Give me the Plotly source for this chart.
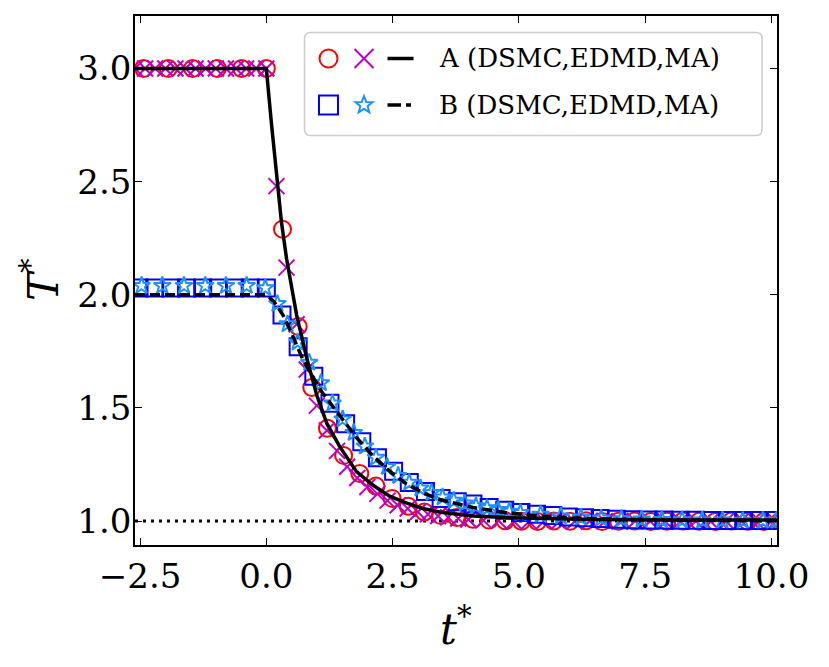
import math
import plotly.graph_objects as go

# ---------------- data ----------------
A_dsmc_t = [-2.43, -1.94, -1.46, -0.97, -0.49, 0.00, 0.32, 0.63, 0.90, 1.21,
            1.53, 1.85, 2.17, 2.49, 2.81, 3.13, 3.45, 3.77, 4.09, 4.41,
            4.73, 5.05, 5.37, 5.69, 6.01, 6.33, 6.65, 6.97, 7.29, 7.61,
            7.93, 8.25, 8.57, 8.89, 9.21, 9.53, 9.85, 10.17]
A_dsmc_T = [3.00, 3.00, 3.00, 3.00, 3.00, 3.00, 2.29, 1.86, 1.59, 1.41,
            1.29, 1.21, 1.155, 1.10, 1.065, 1.04, 1.025, 1.015, 1.008, 1.004,
            1.001, 0.999, 0.998, 1.000, 0.999, 1.001, 0.998, 0.999, 1.000, 0.998,
            0.999, 1.000, 0.999, 0.998, 1.000, 0.999, 0.998, 0.999]

A_edmd_t = [-2.6, -2.4, -2.2, -2.0, -1.8, -1.6, -1.4, -1.2, -1.0, -0.8, -0.6, -0.4, -0.2, 0.0,
            0.2, 0.4, 0.6, 0.8, 1.0, 1.2, 1.4, 1.6, 1.8, 2.0,
            2.2, 2.4, 2.6, 2.8, 3.0, 3.2, 3.4, 3.6, 3.8, 4.0,
            4.3, 4.6, 4.9, 5.2, 5.5, 5.8, 6.1, 6.4, 6.7, 7.0,
            7.3, 7.6, 7.9, 8.2, 8.5, 8.8, 9.1, 9.4, 9.7, 10.0]
A_edmd_T = [3.00, 3.00, 3.00, 3.00, 3.00, 3.00, 3.00, 3.00, 3.00, 3.00, 3.00, 3.00, 3.00, 3.00,
            2.48, 2.12, 1.87, 1.67, 1.51, 1.40, 1.31, 1.24, 1.19, 1.15,
            1.12, 1.09, 1.07, 1.055, 1.04, 1.03, 1.022, 1.016, 1.011, 1.007,
            1.003, 1.001, 0.999, 0.998, 1.000, 0.999, 0.998, 1.000, 0.999, 0.998,
            1.000, 0.999, 0.998, 0.999, 1.000, 0.998, 0.999, 1.000, 0.998, 0.999]

A_ma_t = [-2.6, 0.0, 0.1, 0.2, 0.3, 0.4, 0.5, 0.6, 0.7, 0.8, 1.0, 1.2, 1.45, 1.78,
          2.1, 2.44, 2.77, 3.1, 3.43, 4.09, 4.75, 5.4, 6.5, 8.0, 10.2]
A_ma_T = [3.0, 3.0, 2.76, 2.53, 2.32, 2.16, 2.03, 1.91, 1.815, 1.72, 1.555, 1.43, 1.33, 1.22,
          1.16, 1.11, 1.08, 1.055, 1.04, 1.022, 1.015, 1.011, 1.007, 1.005, 1.004]

B_dsmc_t = [-2.52, -2.21, -1.89, -1.58, -1.26, -0.95, -0.63, -0.32, 0.00,
            0.31, 0.63, 0.94, 1.26, 1.57, 1.89, 2.20, 2.52, 2.83, 3.15,
            3.46, 3.78, 4.09, 4.41, 4.72, 5.04, 5.35, 5.67, 5.98, 6.30,
            6.61, 6.93, 7.24, 7.56, 7.87, 8.19, 8.50, 8.82, 9.13, 9.45,
            9.76, 10.08]
B_dsmc_T = [2.03, 2.03, 2.03, 2.03, 2.03, 2.03, 2.03, 2.03, 2.03,
            1.91, 1.77, 1.64, 1.52, 1.43, 1.35, 1.28, 1.22, 1.17, 1.13,
            1.10, 1.085, 1.075, 1.06, 1.048, 1.038, 1.03, 1.024, 1.018, 1.014,
            1.011, 1.008, 1.006, 1.005, 1.004, 1.003, 1.003, 1.002, 1.002, 1.002,
            1.002, 1.002]

B_edmd_t = [-2.47, -2.06, -1.63, -1.21, -0.80, -0.39, -0.02,
            0.22, 0.42, 0.62, 0.85, 1.08, 1.31, 1.51, 1.73, 1.95, 2.17,
            2.39, 2.61, 2.83, 3.05, 3.27, 3.49, 3.71, 3.93, 4.15, 4.37,
            4.59, 4.81, 5.03, 5.43, 5.83, 6.23, 6.63, 7.03, 7.43, 7.83,
            8.23, 8.63, 9.03, 9.43, 9.83, 10.10]
B_edmd_T = [2.04, 2.04, 2.04, 2.04, 2.04, 2.04, 2.03,
            1.96, 1.87, 1.79, 1.70, 1.61, 1.52, 1.45, 1.39, 1.33, 1.28,
            1.24, 1.20, 1.17, 1.145, 1.125, 1.105, 1.09, 1.078, 1.066, 1.057,
            1.049, 1.042, 1.036, 1.028, 1.021, 1.016, 1.012, 1.009, 1.007, 1.005,
            1.004, 1.003, 1.003, 1.002, 1.002, 1.002]

B_ma_t = [-2.6, 0.0, 0.15, 0.33, 0.5, 0.73, 1.1, 1.5, 1.78, 2.1, 2.44, 2.77, 3.1, 3.43,
          4.09, 4.75, 5.4, 6.0, 7.0, 8.0, 9.0, 10.2]
B_ma_T = [2.0, 2.0, 1.97, 1.91, 1.83, 1.71, 1.57, 1.45, 1.37, 1.29, 1.22, 1.165, 1.125, 1.095,
          1.06, 1.037, 1.022, 1.014, 1.007, 1.004, 1.002, 1.001]

T_ref = 1.0
x_ticks = [-2.5, 0.0, 2.5, 5.0, 7.5, 10.0]
y_ticks = [1.0, 1.5, 2.0, 2.5, 3.0]
legend_labels = ["A (DSMC,EDMD,MA)", "B (DSMC,EDMD,MA)"]
x_title = "<i>t</i><sup>*</sup>"
y_title = "<i>T</i><sup>*</sup>"

# ---------------- styling ----------------
RED = "#ff0000"
MAG = "#bf00bf"
BLUE = "#0000ff"
DBLUE = "#1e90ff"
FONT = "DejaVu Serif"

W, H = 829, 667
OFF = 8  # page body margin of the browser
# plot area in screenshot pixels (reference), converted to figure pixels
L, R, TOP, BOT = 135 - OFF, 777 - OFF, 16 - OFF, 545 - OFF

fig = go.Figure()

fig.add_trace(go.Scatter(x=A_dsmc_t, y=A_dsmc_T, mode="markers", showlegend=False,
                         marker=dict(symbol="circle-open", size=17, color=RED, line=dict(width=2))))
fig.add_trace(go.Scatter(x=A_edmd_t, y=A_edmd_T, mode="markers", showlegend=False,
                         marker=dict(symbol="x-thin-open", size=16, color=MAG, line=dict(width=2, color=MAG))))
fig.add_trace(go.Scatter(x=B_dsmc_t, y=B_dsmc_T, mode="markers", showlegend=False,
                         marker=dict(symbol="square-open", size=17, color=BLUE, line=dict(width=2))))
fig.add_trace(go.Scatter(x=B_edmd_t, y=B_edmd_T, mode="markers", showlegend=False,
                         marker=dict(symbol="star-open", size=13, color=DBLUE, line=dict(width=2))))
fig.add_trace(go.Scatter(x=A_ma_t, y=A_ma_T, mode="lines", showlegend=False,
                         line=dict(color="black", width=3.5)))
fig.add_trace(go.Scatter(x=B_ma_t, y=B_ma_T, mode="lines", showlegend=False,
                         line=dict(color="black", width=3.5, dash="10px,5px")))

shapes = []
# reference dotted line
shapes.append(dict(type="line", xref="paper", x0=0, x1=1, yref="y", y0=T_ref, y1=T_ref,
                   line=dict(color="black", width=3, dash="3px,5px"), layer="below"))


def px(x):
    # screenshot pixel x -> paper
    return (x - OFF - L) / (R - L)


def py(y):
    # screenshot pixel y -> paper
    return (BOT - (y - OFF)) / (BOT - TOP)


# legend box (rounded)
bx0, bx1, by0, by1, rad = 304.5, 762, 32.5, 135.5, 6
path = (f"M {px(bx0 + rad)},{py(by0)} L {px(bx1 - rad)},{py(by0)} "
        f"Q {px(bx1)},{py(by0)} {px(bx1)},{py(by0 + rad)} "
        f"L {px(bx1)},{py(by1 - rad)} Q {px(bx1)},{py(by1)} {px(bx1 - rad)},{py(by1)} "
        f"L {px(bx0 + rad)},{py(by1)} Q {px(bx0)},{py(by1)} {px(bx0)},{py(by1 - rad)} "
        f"L {px(bx0)},{py(by0 + rad)} Q {px(bx0)},{py(by0)} {px(bx0 + rad)},{py(by0)} Z")
shapes.append(dict(type="path", xref="paper", yref="paper", path=path,
                   line=dict(color="#cccccc", width=1.5), fillcolor="rgba(255,255,255,0.8)",
                   layer="above"))

r1, r2 = 58.5, 105.0
cx1, cx2, lx0 = 328.5, 364.0, 387.5
# row 1: circle, cross, solid line
rc = 9
shapes.append(dict(type="circle", xref="paper", yref="paper",
                   x0=px(cx1 - rc), x1=px(cx1 + rc), y0=py(r1 + rc), y1=py(r1 - rc),
                   line=dict(color=RED, width=2)))
hc = 9.5
shapes.append(dict(type="path", xref="paper", yref="paper",
                   path=(f"M {px(cx2 - hc)},{py(r1 - hc)} L {px(cx2 + hc)},{py(r1 + hc)} "
                         f"M {px(cx2 - hc)},{py(r1 + hc)} L {px(cx2 + hc)},{py(r1 - hc)}"),
                   line=dict(color=MAG, width=2)))
shapes.append(dict(type="line", xref="paper", yref="paper",
                   x0=px(lx0), x1=px(lx0 + 26), y0=py(r1), y1=py(r1),
                   line=dict(color="black", width=3.5)))
# row 2: square, star, dashed line
hs = 9.5
shapes.append(dict(type="rect", xref="paper", yref="paper",
                   x0=px(cx1 - hs), x1=px(cx1 + hs), y0=py(r2 + hs), y1=py(r2 - hs),
                   line=dict(color=BLUE, width=2)))
ro, ri = 9.0, 3.8
pts = []
for k in range(10):
    ang = -math.pi / 2 + k * math.pi / 5
    rr = ro if k % 2 == 0 else ri
    pts.append((cx2 + rr * math.cos(ang), r2 + rr * math.sin(ang)))
spath = "M " + " L ".join(f"{px(a)},{py(b)}" for a, b in pts) + " Z"
shapes.append(dict(type="path", xref="paper", yref="paper", path=spath,
                   line=dict(color=DBLUE, width=2)))
shapes.append(dict(type="line", xref="paper", yref="paper",
                   x0=px(lx0), x1=px(lx0 + 13.5), y0=py(r2), y1=py(r2),
                   line=dict(color="black", width=3.5)))
shapes.append(dict(type="line", xref="paper", yref="paper",
                   x0=px(lx0 + 18.5), x1=px(lx0 + 23.5), y0=py(r2), y1=py(r2),
                   line=dict(color="black", width=3.5)))

annotations = []
for lab, ry in zip(legend_labels, [r1, r2]):
    annotations.append(dict(text=lab, xref="paper", yref="paper", x=px(437), y=py(ry),
                            xanchor="left", yanchor="middle", showarrow=False,
                            font=dict(family=FONT, size=26, color="black")))
# axis titles
annotations.append(dict(text=x_title, xref="paper", yref="paper", x=px(456), y=py(626),
                        xanchor="center", yanchor="middle", showarrow=False,
                        font=dict(family=FONT, size=42, color="black")))
annotations.append(dict(text=y_title, xref="paper", yref="paper", x=px(40), y=py(280),
                        xanchor="center", yanchor="middle", showarrow=False, textangle=-90,
                        font=dict(family=FONT, size=42, color="black")))

axis_common = dict(showline=True, linecolor="black", linewidth=1.5, mirror="ticks",
                   ticks="inside", ticklen=7, tickwidth=1.3, tickcolor="black",
                   showgrid=False, zeroline=False, automargin=False,
                   tickfont=dict(family=FONT, size=34, color="black"))

fig.update_layout(
    width=W, height=H,
    margin=dict(l=L, r=W - R, t=TOP, b=H - BOT),
    plot_bgcolor="white", paper_bgcolor="white",
    showlegend=False,
    shapes=shapes, annotations=annotations,
    xaxis=dict(range=[-2.6, 10.11], tickvals=x_ticks, tickformat=".1f", **axis_common),
    yaxis=dict(range=[0.894, 3.232], tickvals=y_ticks, tickformat=".1f",
               ticklabelstandoff=-5, **axis_common),
)

fig.write_html("out.html")
